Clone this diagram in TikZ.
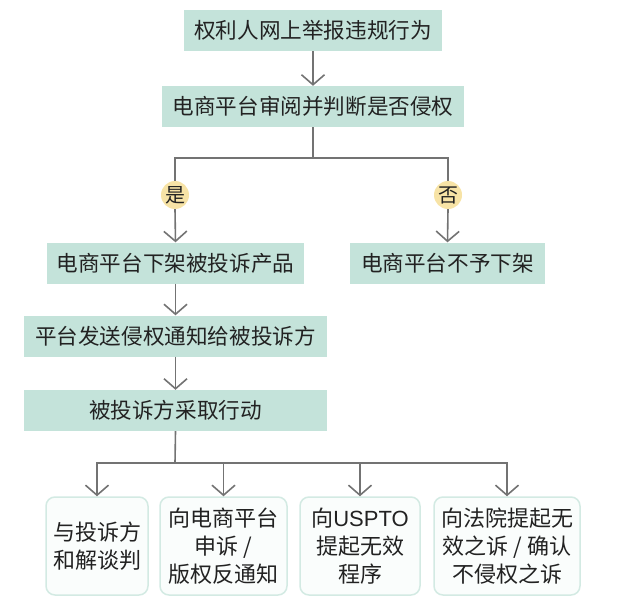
\documentclass[tikz,border=0pt]{standalone}
\usepackage{fontspec}
\setmainfont{Noto Sans CJK SC}
\newfontfamily\latinf{Liberation Sans}
\usetikzlibrary{arrows.meta}
\definecolor{boxfill}{HTML}{C4E3DA}
\definecolor{circfill}{HTML}{F7E3A6}
\definecolor{linec}{HTML}{737373}
\definecolor{lightborder}{HTML}{D3EAE3}
\definecolor{lightfill}{HTML}{FAFDFC}
\definecolor{textc}{HTML}{222222}
\tikzset{
  stepbox/.style={fill=boxfill, draw=none, inner sep=0pt, minimum height=41pt, text=textc, font=\fontsize{21.6}{25}\selectfont},
  endbox/.style={fill=lightfill, draw=lightborder, line width=1.5pt, rounded corners=9pt, inner sep=0pt, minimum height=98pt, align=center, text=textc, font=\fontsize{22}{28}\selectfont},
  yn/.style={circle, fill=circfill, inner sep=0pt, minimum size=28pt, text=textc, font=\fontsize{20}{24}\selectfont},
  conn/.style={draw=linec, line width=1.6pt},
  arr/.style={conn, -{Straight Barb[length=10pt,width=23pt,line width=1.6pt]}},
}
\begin{document}
\begin{tikzpicture}[x=1pt,y=-1pt]
\useasboundingbox (0,0) rectangle (624,602);
\node[stepbox, minimum width=258pt] (b1) at (313,30.5) {权利人网上举报违规行为};
\node[stepbox, minimum width=302pt] (b2) at (313,106.5) {电商平台审阅并判断是否侵权};
\node[yn] (yes) at (175,195) {是};
\node[yn] (no) at (448,195) {否};
\node[stepbox, minimum width=257pt] (b3) at (175.5,263) {电商平台下架被投诉产品};
\node[stepbox, minimum width=195pt] (b4) at (447.5,263) {电商平台不予下架};
\node[stepbox, minimum width=303pt] (b5) at (175.5,336) {平台发送侵权通知给被投诉方};
\node[stepbox, minimum width=303pt] (b6) at (175.5,410.5) {被投诉方采取行动};
\node[endbox, minimum width=102pt] (e1) at (97,546) {与投诉方\\和解谈判};
\node[endbox, minimum width=127pt] (e2) at (223.5,546) {向电商平台\\申诉 /\\版权反通知};
\node[endbox, minimum width=120pt] (e3) at (360,546) {向{\latinf USPTO}\\提起无效\\程序};
\node[endbox, minimum width=146pt] (e4) at (507,546) {向法院提起无\\效之诉 / 确认\\不侵权之诉};
\coordinate (s1) at (313,158);
\coordinate (s2) at (175,463);
\draw[arr] (b1.south) -- (b2.north);
\draw[conn] (b2.south) -- (s1);
\draw[conn] (yes.north) |- (s1) -| (no.north);
\draw[arr] (yes.south) -- (b3.north);
\draw[arr] (no.south) -- (b4.north);
\draw[arr] (b3.south) -- (b5.north);
\draw[arr] (b5.south) -- (b6.north);
\draw[conn] (b6.south) -- (s2);
\draw[arr] (s2) -| (e1.north);
\draw[arr] (s2) -| (e2.north);
\draw[arr] (s2) -| (e3.north);
\draw[arr] (s2) -| (e4.north);
\end{tikzpicture}
\end{document}
